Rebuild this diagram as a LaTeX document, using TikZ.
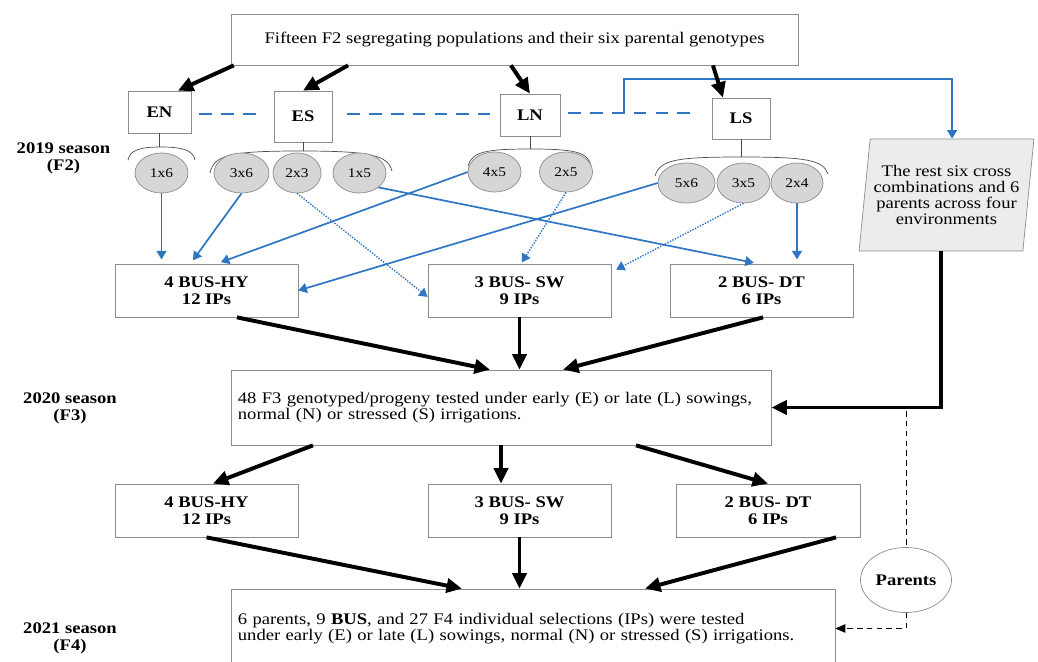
\documentclass[tikz,border=0pt]{standalone}
\usepackage{fontspec}
\setmainfont{Liberation Serif}[FakeStretch=1.15]
\usepackage{tikz}
\usetikzlibrary{positioning,shapes.geometric,arrows.meta,calc}
\definecolor{linkblue}{RGB}{46,117,195}
\definecolor{crossgray}{RGB}{214,214,214}
\definecolor{restgray}{RGB}{236,236,236}
\definecolor{boxgray}{RGB}{140,140,140}

\begin{document}
\begin{tikzpicture}[x=0.025cm, y=-0.025cm,
    every node/.style={font=\fontsize{11.5}{11.5}\selectfont, inner sep=0pt},
    box/.style={draw=boxgray, line width=0.5pt, rectangle, align=center},
    envbox/.style={box, font=\fontsize{11.5}{11.5}\selectfont\bfseries},
    busbox/.style={box, font=\fontsize{11.5}{12}\selectfont\bfseries, minimum width=4.575cm, minimum height=1.325cm},
    cross/.style={ellipse, draw=boxgray, line width=0.5pt, fill=crossgray, minimum height=1cm, font=\fontsize{9.5}{10}\selectfont},
    season/.style={align=center, font=\fontsize{11.5}{12}\selectfont\bfseries},
    blueline/.style={draw=linkblue, line width=1.2pt},
    bluearrow/.style={blueline, -{Triangle[length=6pt,width=7pt]}},
    bluedots/.style={draw=linkblue, line width=1pt, densely dotted, -{Triangle[length=6pt,width=7pt]}},
    bluedash/.style={blueline, dash pattern=on 9pt off 6.5pt},
    bigarrow/.style={line width=2.8pt, -{Triangle[length=11pt,width=10pt]}},
    brace/.style={draw=black!70, line width=0.5pt},
    parentline/.style={line width=0.6pt, dash pattern=on 4pt off 3pt}]

    \useasboundingbox (0,0) rectangle (1038,662);
    \clip (0,0) rectangle (1038,662);

    % top and environments
    \node[box, minimum width=14.175cm, minimum height=1.275cm] (pop) at (514.5,39.5) {Fifteen F2 segregating populations and their six parental genotypes};
    \node[envbox, minimum width=1.575cm, minimum height=1.05cm] (en) at (159.5,112) {EN};
    \node[envbox, minimum width=1.45cm, minimum height=1.275cm] (es) at (303,116.5) {ES};
    \node[envbox, minimum width=1.5cm, minimum height=1.05cm] (ln) at (530,115) {LN};
    \node[envbox, minimum width=1.45cm, minimum height=1.025cm] (ls) at (741,118.5) {LS};

    \node[trapezium, trapezium left angle=80, trapezium right angle=100, trapezium stretches=true,
          draw=boxgray, line width=0.5pt, fill=restgray, minimum width=4.375cm, minimum height=2.8cm,
          align=center] (rest) at (946.5,195) {The rest six cross\\combinations and 6\\parents across four\\environments};
    \coordinate (resttop) at ($(rest.top left corner)!0.5!(rest.top right corner)$);
    \coordinate (restbot) at ($(rest.bottom left corner)!0.5!(rest.bottom right corner)$);

    \node[season] (s19) at (63.5,158.5) {2019 season\\(F2)};
    \node[season] (s20) at (70,408) {2020 season\\(F3)};
    \node[season] (s21) at (70,638) {2021 season\\(F4)};

    % braces
    \draw[brace] (en.south) -- (en.south |- 0,147);
    \draw[brace] (128,160) .. controls (130,150) and (140,147) .. (161,147) .. controls (182,147) and (193,150) .. (195,160);
    \draw[brace] (es.south) -- (es.south |- 0,151);
    \draw[brace] (210,173) .. controls (214,155) and (230,151) .. (300,151) .. controls (370,151) and (388,155) .. (392,171);
    \draw[brace] (ln.south) -- (ln.south |- 0,149);
    \draw[brace] (468,166) .. controls (472,152) and (485,149) .. (530,149) .. controls (575,149) and (588,152) .. (591,166);
    \draw[brace] (ls.south) -- (ls.south |- 0,157);
    \draw[brace] (655,176) .. controls (660,160) and (675,157) .. (741,157) .. controls (807,157) and (823,160) .. (828,174);

    % crosses
    \node[cross, minimum width=1.325cm] (c16) at (161.5,173) {1x6};
    \node[cross, minimum width=1.375cm] (c36) at (241.5,173) {3x6};
    \node[cross, minimum width=1.2cm] (c23) at (297,173) {2x3};
    \node[cross, minimum width=1.325cm] (c15) at (359.5,173) {1x5};
    \node[cross, minimum width=1.325cm] (c45) at (494.5,172) {4x5};
    \node[cross, minimum width=1.325cm] (c25) at (566,172) {2x5};
    \node[cross, minimum width=1.425cm] (c56) at (686.5,183) {5x6};
    \node[cross, minimum width=1.325cm] (c35) at (743.5,183) {3x5};
    \node[cross, minimum width=1.3cm] (c24) at (797,183) {2x4};

    % selections
    \node[busbox] (hy1) at (206.5,290.5) {4 BUS-HY\\12 IPs};
    \node[busbox] (sw1) at (519.5,290.5) {3 BUS- SW\\9 IPs};
    \node[busbox] (dt1) at (761.5,290.5) {2 BUS- DT\\6 IPs};
    \node[box, minimum width=13.5cm, minimum height=1.875cm, text width=13.15cm, align=left] (f3) at (501,407.5)
        {48 F3 genotyped/progeny tested under early (E) or late (L) sowings,\\normal (N) or stressed (S) irrigations.};
    \node[busbox] (hy2) at (206.5,510.5) {4 BUS-HY\\12 IPs};
    \node[busbox] (sw2) at (519.5,510.5) {3 BUS- SW\\9 IPs};
    \node[busbox, minimum width=4.6cm] (dt2) at (768,510.5) {2 BUS- DT\\6 IPs};
    \node[box, minimum width=15.1cm, minimum height=1.975cm, text width=14.75cm, align=left] (f4) at (533,628.5)
        {6 parents, 9 \textbf{BUS}, and 27 F4 individual selections (IPs) were tested\\under early (E) or late (L) sowings, normal (N) or stressed (S) irrigations.};
    \node[ellipse, draw=boxgray, line width=0.5pt, minimum width=2.275cm, minimum height=1.625cm, font=\fontsize{11.5}{11.5}\selectfont\bfseries] (parents) at (906,580) {Parents};

    % environment links
    \draw[bluedash, shorten <=0.2cm, shorten >=0.35cm] (en.east |- 0,114) -- (es.west |- 0,114);
    \draw[bluedash, shorten <=0.375cm, shorten >=0.25cm] (es.east |- 0,114) -- (ln.west |- 0,114);
    \draw[bluedash, shorten <=0.2cm, shorten >=0.42cm] (ln.east |- 0,113) -- (ls.west |- 0,113);
    \coordinate (tap) at (624,113);
    \draw[bluearrow] (tap) -- (tap |- 0,79) -| (resttop);

    % crosses to selections
    \draw[bluearrow, shorten >=3pt] (c16.south) -- (c16.south |- hy1.north);
    \draw[bluearrow, shorten >=3pt] (c36.south) -- ([xshift=-0.4cm]hy1.north);
    \draw[bluearrow, shorten >=3pt] (c45.west) -- ([xshift=0.26cm]hy1.north);
    \draw[bluearrow] (c56.west) -- (hy1.east);
    \draw[bluearrow, shorten >=3pt] (c15.south east) -- ([xshift=-0.09cm]dt1.north);
    \draw[bluearrow, shorten >=3pt] (c24.south) -- (c24.south |- dt1.north);
    \draw[bluedots] (c23.south) -- ([yshift=-0.16cm]sw1.west);
    \draw[bluedots, shorten >=1pt] (c25.south) -- ([xshift=0.04cm]sw1.north);
    \draw[bluedots] (c35.south) -- ([shift={(0.12cm,-0.15cm)}]sw1.north east);

    % flow
    \draw[bigarrow] ([xshift=0.08cm]pop.south west) -- ([xshift=0.46cm]en.north);
    \draw[bigarrow] ([xshift=-4.16cm]pop.south) -- (es.north);
    \draw[bigarrow] ([xshift=-0.09cm]pop.south) -- (ln.north);
    \draw[bigarrow] ([xshift=4.96cm]pop.south) -- ([xshift=-0.45cm]ls.north);

    \draw[bigarrow] ([xshift=0.76cm]hy1.south) -- ([xshift=-0.275cm]f3.north);
    \draw[bigarrow] (sw1.south) -- (sw1.south |- f3.north);
    \draw[bigarrow] ([xshift=0.04cm]dt1.south) -- ([xshift=1.55cm]f3.north);
    \draw[bigarrow] (restbot) |- (f3.east);

    \draw[bigarrow] ([xshift=-4.7cm]f3.south) -- ([xshift=0.16cm]hy2.north);
    \draw[bigarrow] (f3.south) -- (f3.south |- sw2.north);
    \draw[bigarrow] ([xshift=3.375cm]f3.south) -- (dt2.north);

    \draw[bigarrow] (hy2.south) -- ([xshift=-1.775cm]f4.north);
    \draw[bigarrow] (sw2.south) -- (sw2.south |- f4.north);
    \draw[bigarrow] ([xshift=1.7cm]dt2.south) -- ([xshift=2.8cm]f4.north);

    \coordinate (ptap) at (906,411);
    \draw[parentline] (ptap) -- (parents.north);
    \draw[parentline, -{Triangle[length=7pt,width=6pt]}] (parents.south) |- (f4.east);
\end{tikzpicture}
\end{document}
